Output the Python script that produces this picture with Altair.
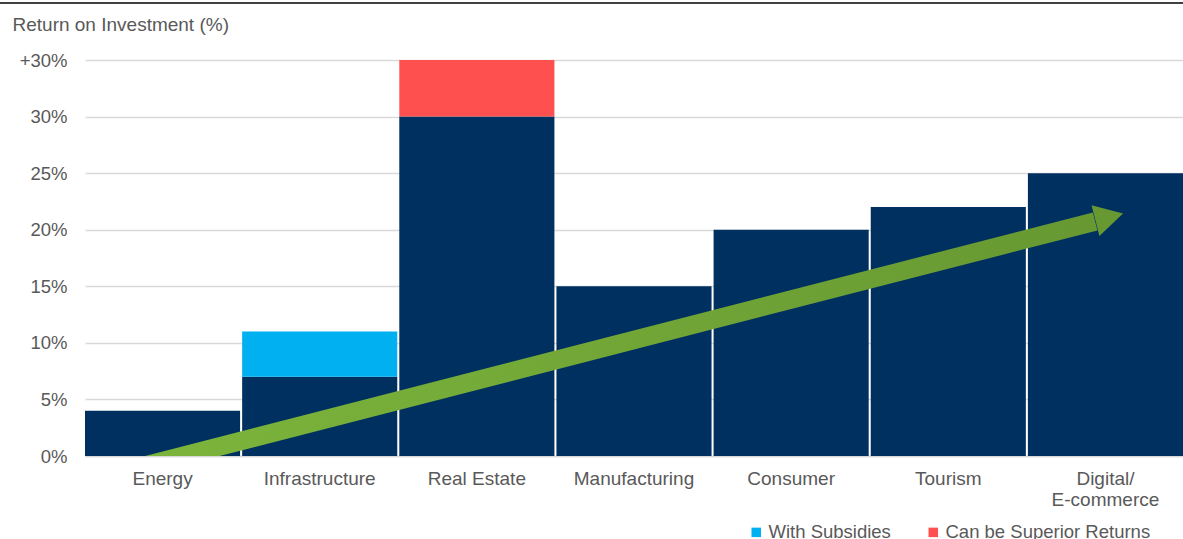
import altair as alt
import pandas as pd

categories = ["Energy", "Infrastructure", "Real Estate", "Manufacturing",
              "Consumer", "Tourism", "Digital/E-commerce"]
base_roi = [4, 7, 30, 15, 20, 22, 25]
subsidy_extra = [0, 4, 0, 0, 0, 0, 0]
superior_extra = [0, 0, 5, 0, 0, 0, 0]

series_names = ["Base", "With Subsidies", "Can be Superior Returns"]
series_colors = ["#00305F", "#00B0F0", "#FF5050"]

# arrow path (category-index units, %)
arrow_x = [0.06, 6.44]
arrow_y = [-2.0, 20.73]
head_x = [6.53]
head_y = [21.12]

rows = []
for c, b, s, r in zip(categories, base_roi, subsidy_extra, superior_extra):
    lo = 0
    for name, v in zip(series_names, [b, s, r]):
        if v > 0:
            rows.append({"cat": c, "series": name, "y0": lo, "y1": lo + v})
            lo += v
bars_df = pd.DataFrame(rows)
shaft_df = pd.DataFrame({"ax": arrow_x, "ay": arrow_y})
head_df = pd.DataFrame({"ax": head_x, "ay": head_y})
top_df = pd.DataFrame({"x": [0]})

FONT = "Liberation Sans"
GRAY = "#595959"

yscale = alt.Scale(domain=[0, 35], nice=False, zero=True)

bars = alt.Chart(bars_df).mark_bar(clip=False).encode(
    x=alt.X("cat:N", sort=categories,
            scale=alt.Scale(paddingInner=0.013, paddingOuter=0),
            axis=alt.Axis(title=None, labelAngle=0, ticks=False, grid=False,
                          domainColor="#D9D9D9", domainWidth=1.5,
                          labelColor=GRAY, labelFont=FONT, labelFontSize=19,
                          labelPadding=13, labelBaseline="top",
                          labelLineHeight=21,
                          labelExpr="datum.value == 'Digital/E-commerce' ? ['Digital/', 'E-commerce'] : datum.value")),
    y=alt.Y("y0:Q", scale=yscale,
            axis=alt.Axis(values=[0, 5, 10, 15, 20, 25, 30, 35], grid=True,
                          labelExpr="datum.value == 35 ? '+30%' : datum.value + '%'",
                          title="Return on Investment (%)", titleAngle=0,
                          titleAlign="left", titleBaseline="middle",
                          titleX=-73, titleY=-36, titleFont=FONT,
                          titleFontSize=19, titleFontWeight="normal",
                          titleColor=GRAY,
                          domain=False, ticks=False, labelPadding=18,
                          labelColor=GRAY, labelFont=FONT, labelFontSize=18.5,
                          gridColor="#D9D9D9", gridWidth=1.5)),
    y2="y1:Q",
    color=alt.Color("series:N",
                    scale=alt.Scale(domain=series_names, range=series_colors),
                    legend=alt.Legend(values=["With Subsidies", "Can be Superior Returns"],
                                      title=None, orient="none", direction="horizontal",
                                      legendX=662, legendY=463, columns=2,
                                      columnPadding=33, symbolType="square",
                                      symbolSize=90, symbolStrokeWidth=0,
                                      labelOffset=3, labelLimit=400,
                                      labelFont=FONT, labelFontSize=18.5,
                                      labelColor=GRAY)),
)

xq = alt.Scale(domain=[0, 7], nice=False, zero=False)
yq = alt.Scale(domain=[0, 35], nice=False, zero=True)

green = alt.Gradient(gradient="linear",
                     stops=[alt.GradientStop(color="#7DB63C", offset=0),
                            alt.GradientStop(color="#679832", offset=1)],
                     x1=0, x2=1, y1=0, y2=0)

shaft = alt.Chart(shaft_df).mark_line(clip=True, strokeWidth=18.5,
                                      strokeCap="butt", stroke=green).encode(
    x=alt.X("ax:Q", scale=xq, axis=None),
    y=alt.Y("ay:Q", scale=yq, axis=None),
)

head = alt.Chart(head_df).mark_point(
    shape="M-0.9,-1L0.9,0L-0.9,1Z", filled=True, fill="#679832",
    fillOpacity=1, strokeWidth=0, size=1000, angle=345.6).encode(
    x=alt.X("ax:Q", scale=xq, axis=None),
    y=alt.Y("ay:Q", scale=yq, axis=None),
)

arrow = alt.layer(shaft, head)

top_rule = alt.Chart(top_df).mark_rule(color="#404040", strokeWidth=2).encode(
    x=alt.value(-85), x2=alt.value(1098), y=alt.value(-57))

chart = alt.layer(bars, arrow, top_rule).resolve_scale(
    x="independent", y="independent"
).properties(
    width=1098, height=396,
    autosize=alt.AutoSizeParams(type="none"),
    padding={"left": 85, "top": 60, "right": 0, "bottom": 83},
).configure_view(stroke=None)

chart.save("out.html", embed_options={"renderer": "svg", "actions": False})
